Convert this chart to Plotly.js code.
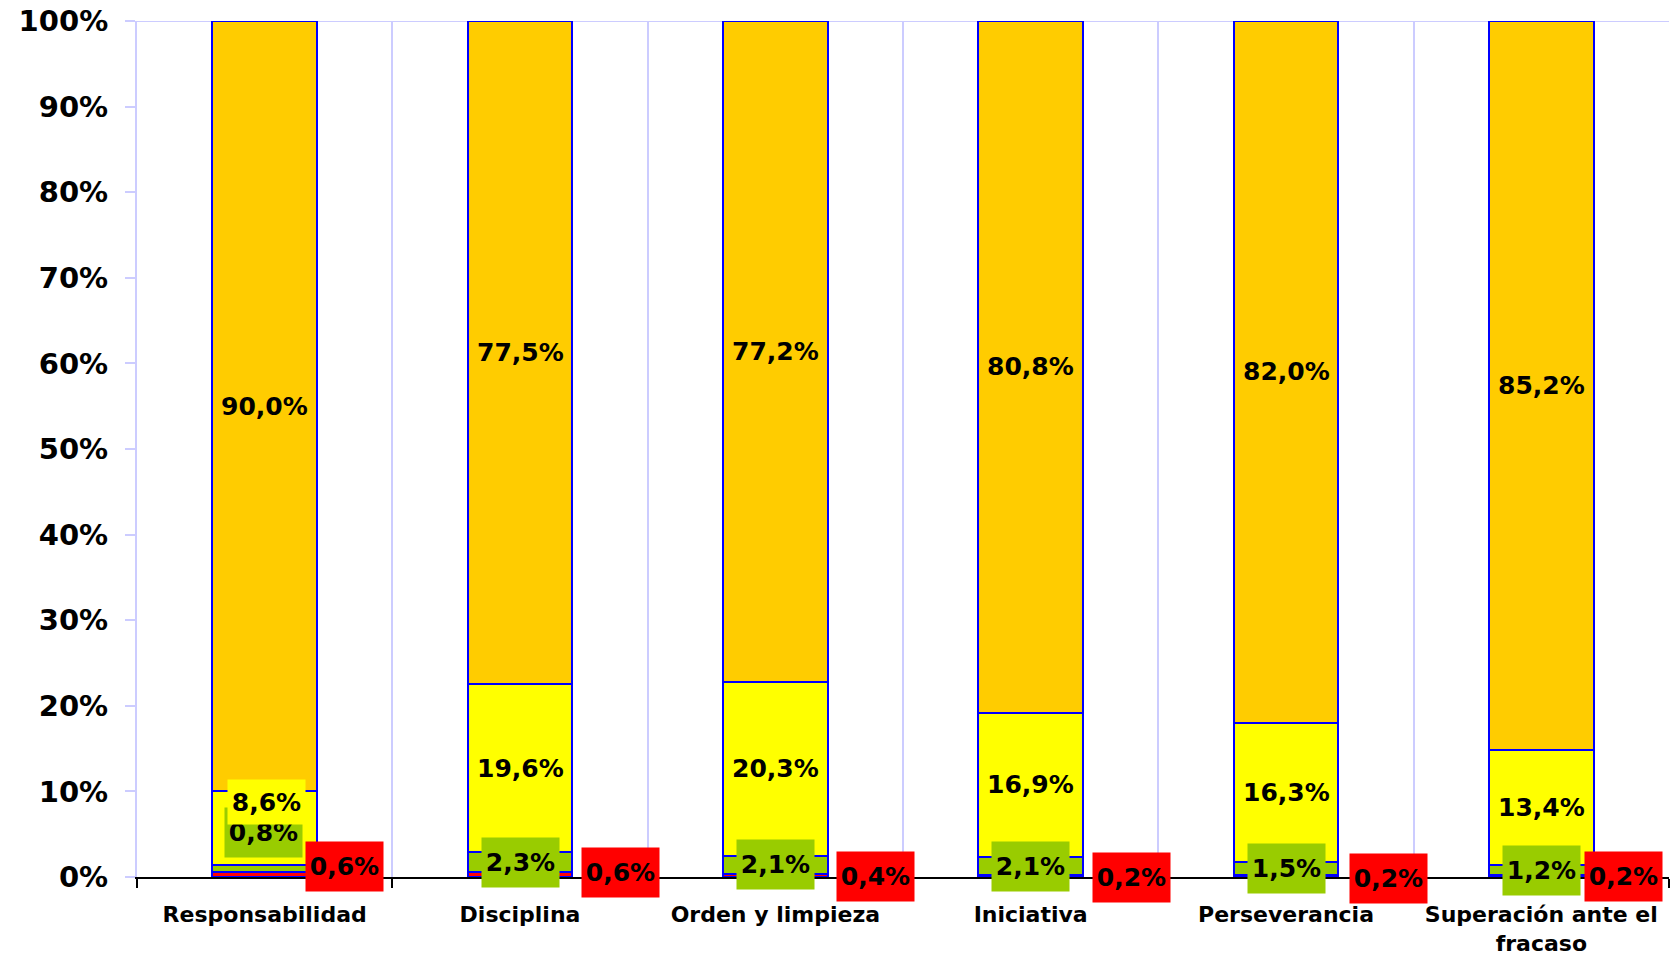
<!DOCTYPE html>
<html>
<head>
<meta charset="utf-8">
<script src="https://cdn.plot.ly/plotly-3.0.1.min.js"></script>
<style>
  html, body { margin: 0; padding: 0; background: #ffffff; }
  #chart { width: 1675px; height: 962px; }
</style>
</head>
<body>
<div id="chart"></div>
<script>
// ---- data ----
const categories = ["Responsabilidad", "Disciplina", "Orden y limpieza", "Iniciativa", "Perseverancia", "Superación ante el<br>fracaso"];
const rojo     = [0.6, 0.6, 0.4, 0.2, 0.2, 0.2];
const verde    = [0.8, 2.3, 2.1, 2.1, 1.5, 1.2];
const amarillo = [8.6, 19.6, 20.3, 16.9, 16.3, 13.4];
const naranja  = [90.0, 77.5, 77.2, 80.8, 82.0, 85.2];
const yTickVals = [0, 10, 20, 30, 40, 50, 60, 70, 80, 90, 100];

// ---- styles ----
const FONT = "DejaVu Sans, Verdana, sans-serif";
const series = [
  { name: "rojo", values: rojo, color: "#FF0000" },
  { name: "verde", values: verde, color: "#99CC00" },
  { name: "amarillo", values: amarillo, color: "#FFFF00" },
  { name: "naranja", values: naranja, color: "#FFCC00" }
];

const fmt = v => v.toFixed(1).replace(".", ",") + "%";

const traces = series.map(s => ({
  type: "bar",
  x: categories,
  y: s.values,
  name: s.name,
  marker: { color: s.color, line: { color: "#0000FF", width: 2 } },
  width: 0.41,
  hoverinfo: "skip"
}));

// label placement tweaks (pixels)
const redShift = [[80, 8], [100, 2], [100, -1], [101, -1], [102, -2], [82, 0]];
const greenShift = [[-1, 36], [0, 0], [0, 0], [0, 0], [0, 0], [0, 0]];
const yellowShift = [[2, 26], [0, 0], [0, 0], [0, 0], [0, 0], [0, 0]];
const yellowBox = [true, false, false, false, false, false];

const annotations = [];
categories.forEach((c, i) => {
  let base = 0;
  series.forEach((s, k) => {
    const v = s.values[i];
    const mid = base + v / 2;
    base += v;
    const ann = {
      x: c, y: mid, xref: "x", yref: "y",
      text: "<b>" + fmt(v) + "</b>",
      showarrow: false,
      font: { family: FONT, size: 25, color: "#000000" }
    };
    if (k === 0) {
      Object.assign(ann, { bgcolor: s.color, width: 73, height: 45, borderpad: 2, xshift: redShift[i][0], yshift: redShift[i][1] });
    } else if (k === 1) {
      Object.assign(ann, { bgcolor: s.color, width: 73, height: 45, borderpad: 2, xshift: greenShift[i][0], yshift: greenShift[i][1] });
    } else if (k === 2) {
      Object.assign(ann, { xshift: yellowShift[i][0], yshift: yellowShift[i][1] });
      if (yellowBox[i]) Object.assign(ann, { bgcolor: s.color, width: 73, height: 40, borderpad: 2 });
    }
    annotations.push(ann);
  });
});

const layout = {
  width: 1675,
  height: 962,
  margin: { l: 137, r: 6, t: 21, b: 85 },
  barmode: "stack",
  showlegend: false,
  paper_bgcolor: "#ffffff",
  plot_bgcolor: "#ffffff",
  font: { family: FONT, color: "#000000" },
  xaxis: {
    type: "category",
    tickson: "boundaries",
    ticks: "outside",
    ticklen: 9,
    tickwidth: 2,
    tickcolor: "#000000",
    showline: true,
    linecolor: "#000000",
    linewidth: 2,
    showgrid: true,
    gridcolor: "#CCCCFF",
    gridwidth: 2,
    ticklabelstandoff: 17,
    tickfont: { family: FONT, size: 22, color: "#000000", weight: "bold", lineposition: "none" },
    fixedrange: true
  },
  yaxis: {
    range: [0, 100],
    tickvals: yTickVals,
    ticktext: yTickVals.map(v => v + "%"),
    ticks: "outside",
    ticklen: 10,
    tickwidth: 2,
    tickcolor: "#CCCCFF",
    showline: true,
    linecolor: "#CCCCFF",
    linewidth: 2,
    showgrid: false,
    zeroline: false,
    ticklabelstandoff: 11,
    tickfont: { family: FONT, size: 29, color: "#000000", weight: "bold" },
    fixedrange: true
  },
  shapes: [
    { type: "line", xref: "paper", yref: "y", x0: 0, x1: 1, y0: 100, y1: 100,
      line: { color: "#CCCCFF", width: 2 }, layer: "below" }
  ],
  annotations: annotations
};

Plotly.newPlot("chart", traces, layout, { displayModeBar: false, staticPlot: true });
</script>
</body>
</html>
